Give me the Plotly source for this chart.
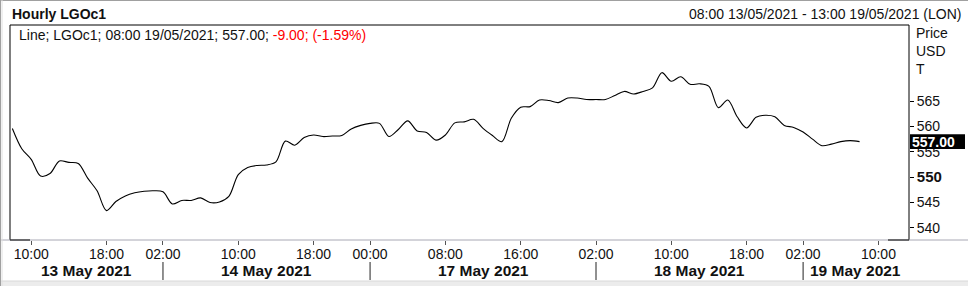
import plotly.graph_objects as go

# ---------------- data ----------------
# trading sessions: (date, first hour, last hour) of hourly closes
sessions = [("2021-05-13", 8, 23), ("2021-05-14", 2, 23), ("2021-05-17", 0, 23),
            ("2021-05-18", 2, 23), ("2021-05-19", 2, 8)]

prices_13 = [559.6, 555.6, 553.5, 550.2, 550.7, 553.2, 552.9, 552.7, 549.8, 547.3,
             543.4, 545.2, 546.3, 546.9, 547.2, 547.3]
prices_14 = [547.1, 544.7, 545.4, 545.4, 545.9, 545.0, 545.1, 546.2, 550.5, 551.9,
             552.3, 552.4, 553.0, 557.1, 556.3, 557.8, 558.3, 558.0, 558.1, 558.2,
             559.5, 560.2]
prices_17 = [560.6, 560.6, 558.0, 559.4, 561.1, 559.1, 558.8, 557.3, 558.3, 560.7,
             560.9, 561.4, 559.6, 558.2, 557.0, 561.6, 563.8, 563.9, 565.2, 565.1,
             564.7, 565.6, 565.6, 565.3]
prices_18 = [565.3, 565.3, 566.1, 566.9, 566.4, 566.9, 567.6, 570.6, 568.9, 569.8,
             568.3, 568.4, 567.9, 563.7, 565.2, 561.9, 559.7, 561.8, 562.2, 561.9,
             560.2, 559.8]
prices_19 = [558.9, 557.5, 556.2, 556.5, 557.0, 557.2, 557.0]
day_prices = [prices_13, prices_14, prices_17, prices_18, prices_19]

x_tickvals = ["2021-05-13 10:00", "2021-05-13 18:00", "2021-05-14 02:00", "2021-05-14 10:00",
              "2021-05-14 18:00", "2021-05-17 00:00", "2021-05-17 08:00", "2021-05-17 16:00",
              "2021-05-18 02:00", "2021-05-18 10:00", "2021-05-18 18:00", "2021-05-19 02:00",
              "2021-05-19 10:00"]
x_ticktext = ["10:00", "18:00", "02:00", "10:00", "18:00", "00:00", "08:00", "16:00",
              "02:00", "10:00", "18:00", "02:00", "10:00"]
day_labels = ["13 May 2021", "14 May 2021", "17 May 2021", "18 May 2021", "19 May 2021"]
day_label_pos = ["2021-05-13 15:50", "2021-05-14 13:00", "2021-05-17 12:00",
                 "2021-05-18 13:00", "2021-05-19 07:37"]
day_separators = ["2021-05-14 02:00", "2021-05-17 00:00", "2021-05-18 02:00", "2021-05-19 02:00"]
closed_periods = [["2021-05-14 00:00", "2021-05-14 02:00"], ["2021-05-15 00:00", "2021-05-17 00:00"],
                  ["2021-05-18 00:00", "2021-05-18 02:00"], ["2021-05-19 00:00", "2021-05-19 02:00"]]
y_tickvals = [540, 545, 550, 555, 560, 565]
y_ticktext = ["540", "545", "<span style='font-weight:bold;font-size:15px'>550</span>",
              "555", "560", "565"]
last_price = 557.00

# ---------------- build ----------------
times, prices = [], []
for (d, h0, h1), vals in zip(sessions, day_prices):
    hrs = list(range(h0, h1 + 1))
    for h, v in zip(hrs, vals):
        times.append(f"{d} {h:02d}:00")
        prices.append(v)

W, H = 968, 286
L, R, T, B = 10, 909, 25, 240
FONT = "Liberation Sans, Arial, sans-serif"
TXT = "#111111"


def px(x):
    return (x - L) / (R - L)


def py(y):
    return (B - y) / (B - T)


fig = go.Figure()
fig.add_trace(go.Scatter(x=times, y=prices, mode="lines",
                         line=dict(color="black", width=1.1, shape="spline", smoothing=0.9),
                         hoverinfo="skip", showlegend=False))

fig.update_layout(
    width=W, height=H,
    margin=dict(l=L, r=W - R, t=T, b=H - B, pad=0),
    paper_bgcolor="white", plot_bgcolor="white",
    font=dict(family=FONT, size=14, color=TXT),
    showlegend=False,
    xaxis=dict(
        range=["2021-05-13 07:45", "2021-05-19 13:15"],
        rangebreaks=[dict(bounds=b) for b in closed_periods],
        tickmode="array", tickvals=x_tickvals, ticktext=x_ticktext,
        ticks="outside", ticklen=4, tickcolor="#555555", tickwidth=1,
        ticklabelstandoff=-3,
        tickfont=dict(family=FONT, size=14, color=TXT),
        showgrid=False, zeroline=False, showline=False,
        fixedrange=True,
    ),
    yaxis=dict(
        side="right", range=[537.6, 580.0],
        tickmode="array", tickvals=y_tickvals, ticktext=y_ticktext,
        ticks="outside", ticklen=4, tickcolor="black", tickwidth=1,
        tickfont=dict(family=FONT, size=14, color=TXT),
        showgrid=False, zeroline=False, showline=False,
        fixedrange=True,
    ),
)

shapes = []
# plot frame
shapes.append(dict(type="line", xref="paper", yref="paper", x0=0, x1=1, y0=1, y1=1,
                   line=dict(color="black", width=1)))
shapes.append(dict(type="line", xref="paper", yref="paper", x0=0, x1=0, y0=0, y1=1,
                   line=dict(color="black", width=1)))
shapes.append(dict(type="line", xref="paper", yref="paper", x0=1, x1=1, y0=0, y1=1,
                   line=dict(color="black", width=1)))
shapes.append(dict(type="line", xref="paper", yref="paper", x0=px(0), x1=px(W), y0=0, y1=0,
                   line=dict(color="#a8a8b4", width=1)))
shapes.append(dict(type="line", xref="paper", yref="paper", x0=0, x1=px(30), y0=0, y1=0,
                   line=dict(color="black", width=1)))
shapes.append(dict(type="line", xref="paper", yref="paper", x0=px(888), x1=1, y0=0, y1=0,
                   line=dict(color="black", width=1)))
# day separators
for s in day_separators:
    shapes.append(dict(type="line", xref="x", yref="paper", x0=s, x1=s, y0=py(262), y1=py(280),
                       line=dict(color="#222222", width=1)))
# outer window decoration
shapes.append(dict(type="rect", xref="paper", yref="paper", x0=px(0), x1=px(W), y0=py(H), y1=py(281),
                   fillcolor="#ececec", line=dict(width=0), layer="below"))
shapes.append(dict(type="line", xref="paper", yref="paper", x0=px(0), x1=px(W), y0=py(281), y1=py(281),
                   line=dict(color="#d8d8d8", width=1)))
shapes.append(dict(type="line", xref="paper", yref="paper", x0=px(0), x1=px(W), y0=py(0.5), y1=py(0.5),
                   line=dict(color="#a0a0a0", width=1)))
shapes.append(dict(type="line", xref="paper", yref="paper", x0=px(0.5), x1=px(0.5), y0=py(0), y1=py(H),
                   line=dict(color="#a0a0a0", width=1)))
shapes.append(dict(type="line", xref="paper", yref="paper", x0=px(2), x1=px(2), y0=py(0), y1=py(H),
                   line=dict(color="#e0e0e0", width=1)))
# last price box
shapes.append(dict(type="rect", xref="paper", yref="y", x0=px(910), x1=px(965),
                   y0=last_price - 1.45, y1=last_price + 1.45,
                   fillcolor="black", line=dict(width=0)))
fig.update_layout(shapes=shapes)

ann = []
ann.append(dict(text="<b>Hourly LGOc1</b>", xref="paper", yref="paper", x=px(10), y=py(14),
                xanchor="left", yanchor="middle", showarrow=False,
                font=dict(family=FONT, size=14, color=TXT)))
ann.append(dict(text="08:00 13/05/2021 - 13:00 19/05/2021 (LON)", xref="paper", yref="paper",
                x=px(963), y=py(14), xanchor="right", yanchor="middle", showarrow=False,
                font=dict(family=FONT, size=14, color=TXT)))
ann.append(dict(text="Line; LGOc1; 08:00 19/05/2021; 557.00; "
                     "<span style='color:#ff0000'>-9.00; (-1.59%)</span>",
                xref="paper", yref="paper", x=px(17), y=py(35), xanchor="left", yanchor="middle",
                showarrow=False, font=dict(family=FONT, size=14, color=TXT)))
for i, t in enumerate(["Price", "USD", "T"]):
    ann.append(dict(text=t, xref="paper", yref="paper", x=px(914), y=py(33 + 18 * i),
                    xanchor="left", yanchor="middle", showarrow=False,
                    font=dict(family=FONT, size=14, color=TXT)))
for lab, pos in zip(day_labels, day_label_pos):
    ann.append(dict(text=f"<b>{lab}</b>", xref="x", yref="paper", x=pos, y=py(270),
                    xanchor="center", yanchor="middle", showarrow=False,
                    font=dict(family=FONT, size=15.5, color=TXT)))
ann.append(dict(text="<b>%.2f</b>" % last_price, xref="paper", yref="y", x=px(910), y=last_price,
                xanchor="left", yanchor="middle", showarrow=False,
                font=dict(family=FONT, size=14, color="white")))
fig.update_layout(annotations=ann)

fig.write_html("out.html")
